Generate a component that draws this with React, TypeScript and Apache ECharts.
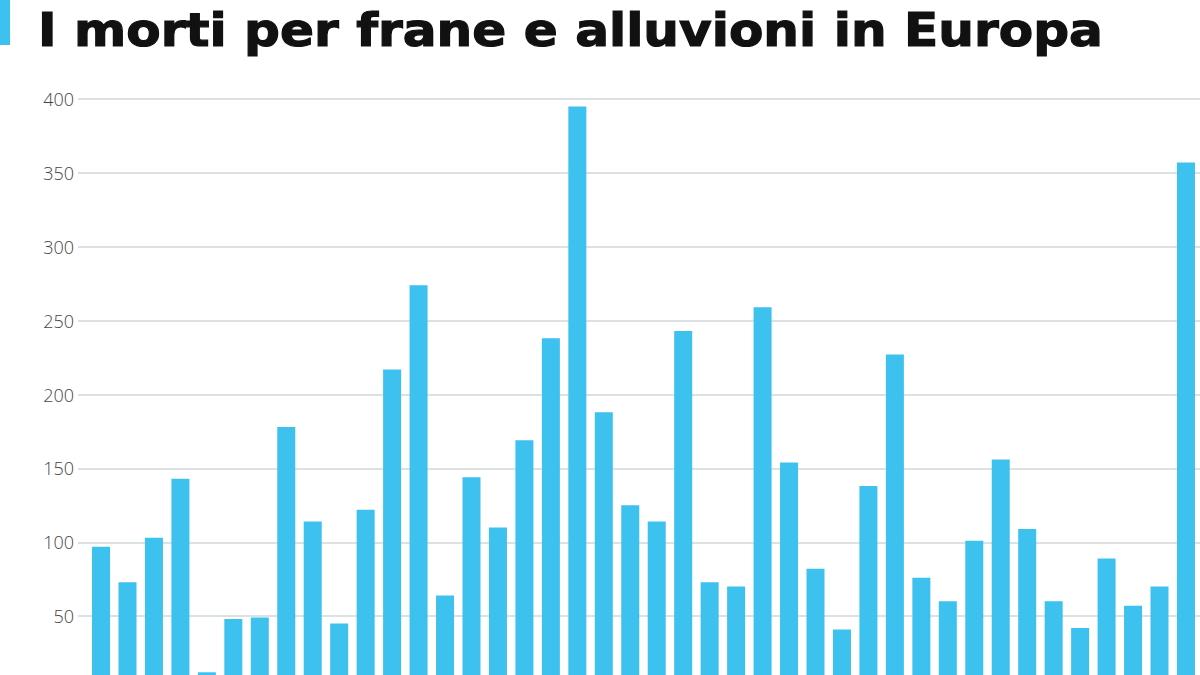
import React, { useEffect, useRef } from "react";
import * as echarts from "echarts";

const titleText = "I morti per frane e alluvioni in Europa";
const yTicks = [0, 50, 100, 150, 200, 250, 300, 350, 400];
const deaths = [
  97, 73, 103, 143, 12, 48, 49, 178, 114, 45, 122, 217, 274, 64, 144, 110, 169, 238, 395, 188,
  125, 114, 243, 73, 70, 259, 154, 82, 41, 138, 227, 76, 60, 101, 156, 109, 60, 42, 89, 57,
  70, 357,
];

export default function App() {
  const ref = useRef<HTMLDivElement>(null);
  useEffect(() => {
    if (!ref.current) return;
    const chart = echarts.init(ref.current, undefined, { renderer: "svg" });
    chart.setOption({
      animation: false,
      backgroundColor: "#ffffff",
      graphic: [
        {
          type: "rect",
          shape: { x: 0, y: 0, width: 10, height: 45 },
          style: { fill: "#3DC1EF" },
        },
        {
          type: "text",
          x: 38,
          y: 7,
          scaleX: 1.09,
          style: {
            text: titleText,
            fontFamily: "DejaVu Sans",
            fontWeight: "bold",
            fontSize: 46,
            fill: "#111111",
            stroke: "#111111",
            lineWidth: 1.2,
            textVerticalAlign: "top",
          },
        },
      ],
      grid: { left: 78, right: 0, top: 99, height: 591, containLabel: false },
      xAxis: {
        type: "value",
        min: -0.87,
        max: 41.53,
        show: false,
        splitLine: { show: false },
      },
      yAxis: {
        type: "value",
        min: yTicks[0],
        max: yTicks[yTicks.length - 1],
        interval: 50,
        axisLine: { show: false },
        axisTick: { show: false },
        axisLabel: {
          margin: 4,
          color: "#444444",
          fontSize: 18,
          fontFamily: "Open Sans",
          fontWeight: 300,
          showMinLabel: false,
        },
        splitLine: { lineStyle: { color: "#d0d8db", width: 1.5 } },
      },
      series: [
        {
          type: "bar",
          data: deaths.map((v, i) => [i, v]),
          barWidth: 18,
          itemStyle: { color: "#3DC1EF" },
        },
      ],
    });
    return () => chart.dispose();
  }, []);
  return (
    <div
      ref={ref}
      style={{ position: "absolute", left: 0, top: 0, width: 1200, height: 700 }}
    />
  );
}
